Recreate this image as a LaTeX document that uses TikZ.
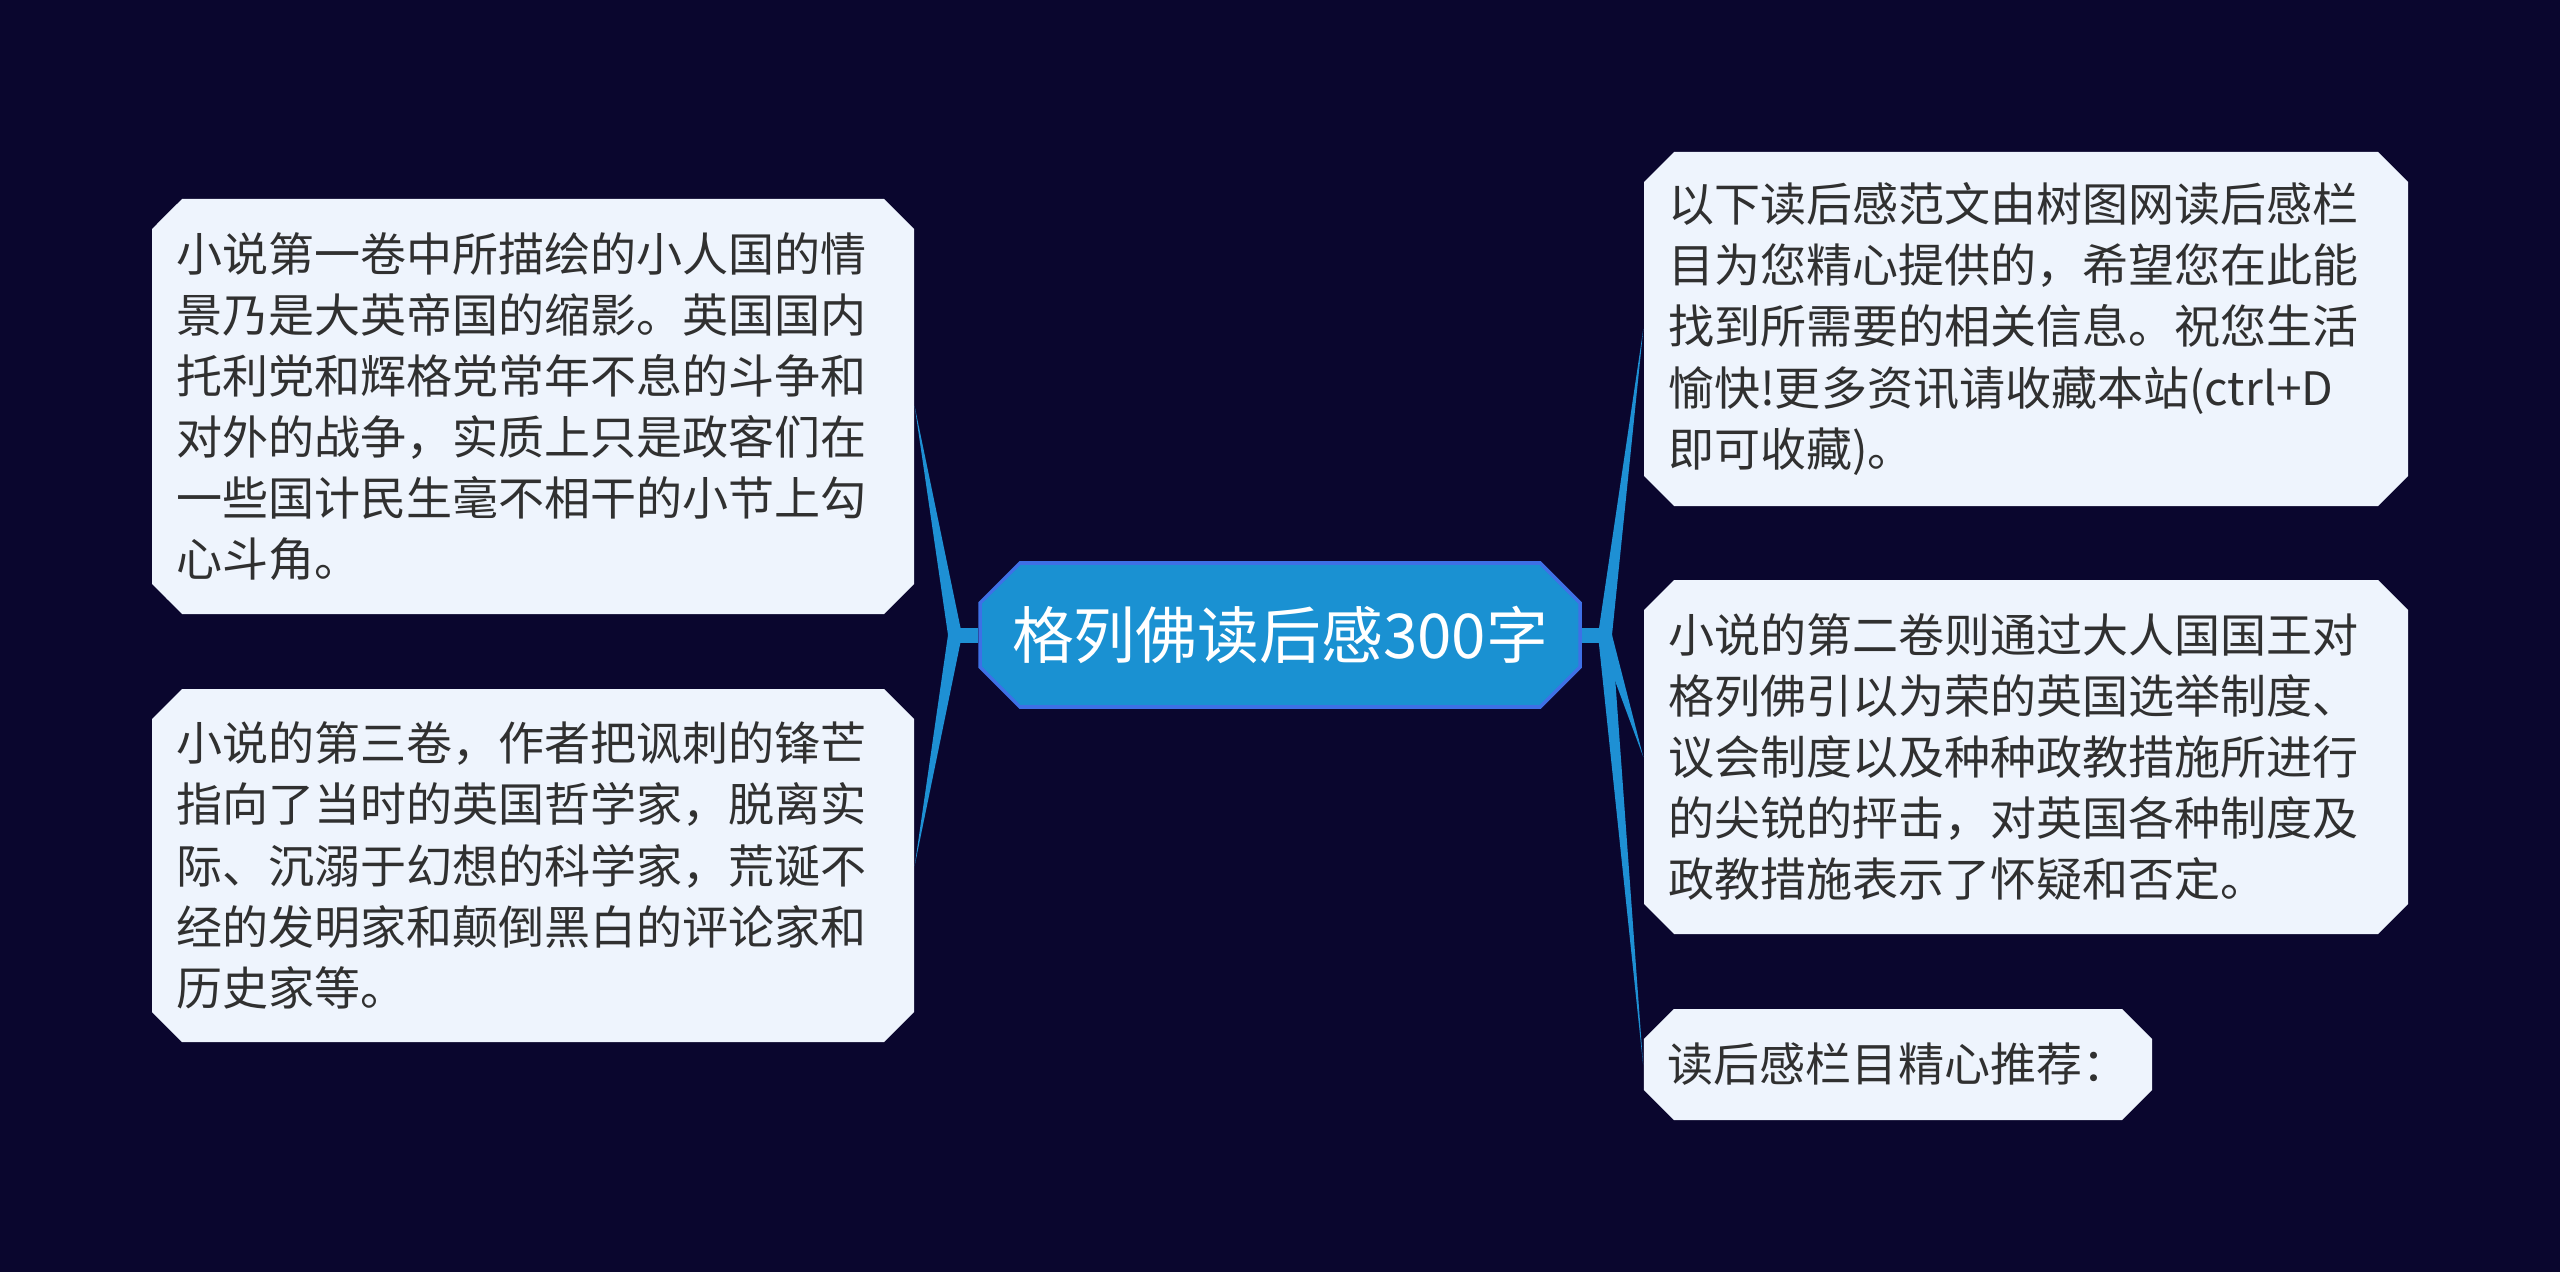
\documentclass[tikz,border=0pt]{standalone}
\usepackage{fontspec}
\setmainfont{Noto Sans CJK SC}
\usetikzlibrary{shapes.misc}

\definecolor{bgnavy}{RGB}{10,6,46}
\definecolor{cardfill}{RGB}{238,244,253}
\definecolor{cardtext}{RGB}{48,48,48}
\definecolor{rootfill}{RGB}{26,145,210}
\definecolor{rootline}{RGB}{62,112,230}
\definecolor{linkblue}{RGB}{30,144,212}

\tikzset{
    card/.style={chamfered rectangle, chamfered rectangle xsep=0.15cm,
        chamfered rectangle ysep=0.15cm, fill=cardfill, text=cardtext,
        inner xsep=0.09cm, inner ysep=0pt, align=left,
        font=\fontsize{13.1pt}{17.4pt}\selectfont},
    rootbox/.style={chamfered rectangle, chamfered rectangle xsep=0.2cm,
        chamfered rectangle ysep=0.2cm, fill=rootfill, draw=rootline,
        line width=1pt, text=white, inner sep=0pt,
        minimum width=6cm, minimum height=1.44cm,
        font=\fontsize{17.6pt}{20pt}\selectfont},
    branch/.style={fill=linkblue},
    stub/.style={draw=linkblue, line width=0.15cm},
}

\begin{document}
\begin{tikzpicture}
    \fill[bgnavy] (0,0) rectangle (25.6,12.72);
    \useasboundingbox (0,0) rectangle (25.6,12.72);

    \node[rootbox] (root) at (12.80,6.37) {格列佛读后感300字};

    \node[card, text width=7.14cm, minimum height=4.15cm] (l1) at (5.33,8.655)
        {小说第一卷中所描绘的小人国的情\\景乃是大英帝国的缩影。英国国内\\托利党和辉格党常年不息的斗争和\\对外的战争，实质上只是政客们在\\一些国计民生毫不相干的小节上勾\\心斗角。};
    \node[card, text width=7.14cm, minimum height=3.53cm] (l2) at (5.33,4.065)
        {小说的第三卷，作者把讽刺的锋芒\\指向了当时的英国哲学家，脱离实\\际、沉溺于幻想的科学家，荒诞不\\经的发明家和颠倒黑白的评论家和\\历史家等。};
    \node[card, text width=7.16cm, minimum height=3.54cm] (r1) at (20.26,9.43)
        {以下读后感范文由树图网读后感栏\\目为您精心提供的，希望您在此能\\找到所需要的相关信息。祝您生活\\愉快!更多资讯请收藏本站(ctrl+D\\即可收藏)。};
    \node[card, text width=7.16cm, minimum height=3.54cm] (r2) at (20.26,5.15)
        {小说的第二卷则通过大人国国王对\\格列佛引以为荣的英国选举制度、\\议会制度以及种种政教措施所进行\\的尖锐的抨击，对英国各种制度及\\政教措施表示了怀疑和否定。};
    \node[card, minimum width=5.08cm, minimum height=1.11cm] (r3) at (18.98,2.075)
        {读后感栏目精心推荐：};

    \coordinate (hubL) at (9.55,6.37);
    \coordinate (hubR) at (16.05,6.37);

    \draw[stub] (hubL) -- (root.west);
    \draw[stub] (root.east) -- (hubR);

    \fill[branch] ([xshift=-0.07cm]hubL) -- ([xshift=0.07cm]hubL) -- (l1.east) -- cycle;
    \fill[branch] ([xshift=-0.07cm]hubL) -- ([xshift=0.07cm]hubL) -- (l2.east) -- cycle;
    \fill[branch] ([xshift=-0.07cm]hubR) -- ([xshift=0.07cm]hubR) -- (r1.west) -- cycle;
    \fill[branch] ([xshift=-0.07cm]hubR) -- ([xshift=0.07cm]hubR) -- (r2.west) -- cycle;
    \fill[branch] ([xshift=-0.07cm]hubR) -- ([xshift=0.07cm]hubR) -- (r3.west) -- cycle;
\end{tikzpicture}
\end{document}
